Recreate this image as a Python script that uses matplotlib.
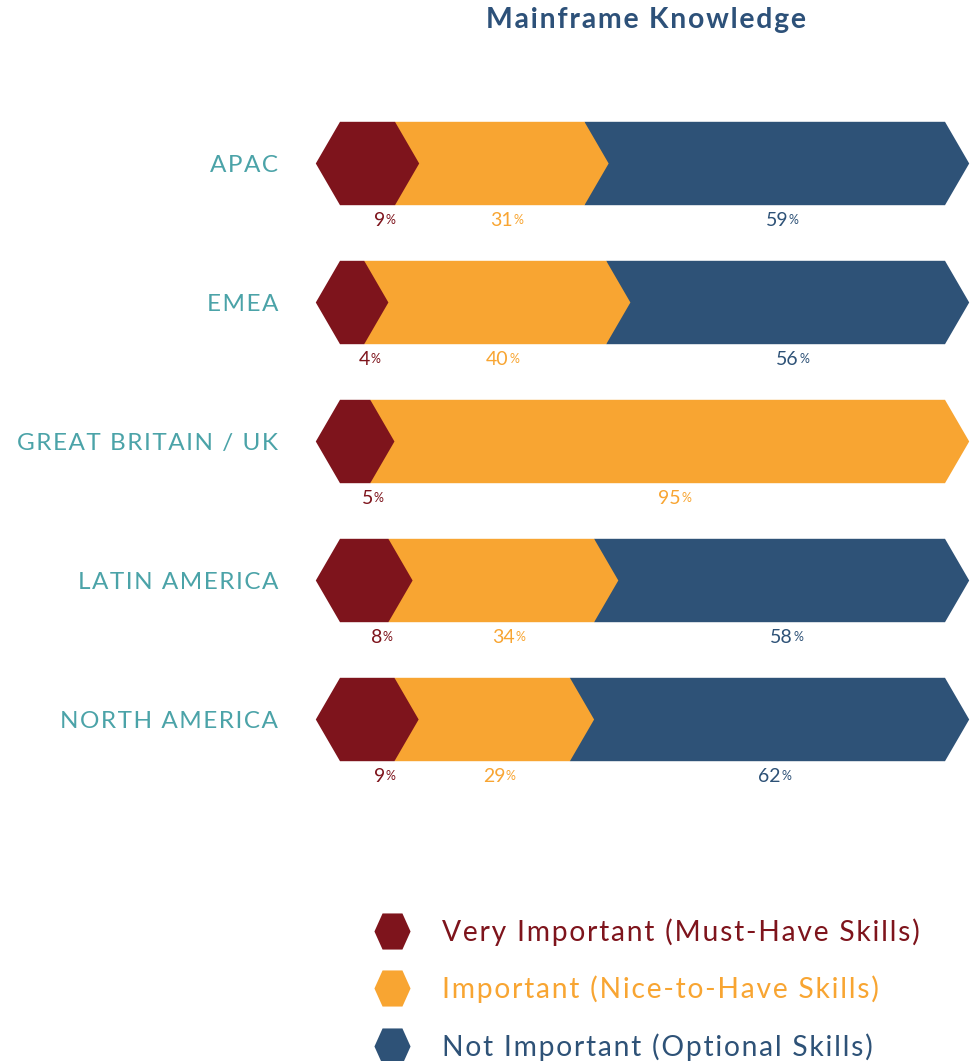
import matplotlib
matplotlib.use("Agg")
import matplotlib.pyplot as plt
from matplotlib.patches import Polygon
from matplotlib.lines import Line2D

# ── data ──
regions = ["APAC", "EMEA", "GREAT BRITAIN / UK", "LATIN AMERICA", "NORTH AMERICA"]
very_important = [9, 4, 5, 8, 9]
important = [31, 40, 95, 34, 29]
not_important = [59, 56, 0, 58, 62]
series_names = ["Very Important (Must-Have Skills)",
                "Important (Nice-to-Have Skills)",
                "Not Important (Optional Skills)"]

RED, ORANGE, NAVY = "#7e141c", "#f8a532", "#2e5277"
TEAL, TITLE = "#4ba3a8", "#2d5179"
colors = [RED, ORANGE, NAVY]

plt.rcParams["font.family"] = ["Lato", "DejaVu Sans"]


def spaced(s):
    # the source uses letter-spaced type; fake the tracking with hair spaces
    return "\u200a".join(s)


W, H = 972, 1061
fig = plt.figure(figsize=(W / 100, H / 100), dpi=100)
# 0 % at x=340 px, 100 % at x=945 px; rows centred every 139 px from y=164
ax = fig.add_axes([340 / W, 1 - 789 / H, 605 / W, 695 / H])
ax.set_xlim(0, 100)
ax.set_ylim(len(regions) - 0.5, -0.5)
for s in ax.spines.values():
    s.set_visible(False)
ax.set_xticks([])

TIP = 4.0      # arrow point depth, in % units
HALF = 0.30    # half bar height, in row units

rows = list(zip(very_important, important, not_important))
for i, vals in enumerate(rows):
    total = sum(vals)
    left = 0.0
    for k, v in enumerate(vals):
        if v <= 0:
            continue
        w = v / total * 100
        right = left + w
        pts = [(left, i - HALF), (right, i - HALF), (right + TIP, i),
               (right, i + HALF), (left, i + HALF)]
        if k == 0:
            pts.append((left - TIP, i))
        ax.add_patch(Polygon(pts, closed=True, facecolor=colors[k],
                             edgecolor="none", zorder=10 - k, clip_on=False))
        # value label under the segment, small raised "%"
        t = ax.text((left + right) / 2 + TIP / 2, i + HALF + 0.11, f"{v}",
                    ha="center", va="center", fontsize=14, color=colors[k])
        ax.annotate("%", xy=(1, 0.55), xycoords=t, xytext=(0.3, 0),
                    textcoords="offset points", ha="left", va="center",
                    fontsize=9, color=colors[k])
        left = right

ax.set_yticks(range(len(regions)), [spaced(r) for r in regions])
ax.tick_params(axis="y", length=0, pad=44.6, labelsize=17.5, labelcolor=TEAL)

fig.text(646.5 / W, 1 - 20 / H, spaced("Mainframe Knowledge"), ha="center",
         va="center", fontsize=20.4, fontweight="bold", color=TITLE)

hexagon = [(-1, 0), (-0.55, 1), (0.55, 1), (1, 0), (0.55, -1), (-0.55, -1)]
handles = [Line2D([], [], linestyle="none", marker=hexagon, markersize=26,
                  markerfacecolor=c, markeredgecolor="none") for c in colors]
leg = fig.legend(handles, [spaced(n) for n in series_names], loc="upper left",
                 bbox_to_anchor=(373 / W, 1 - 918 / H), frameon=False,
                 fontsize=20.3, handlelength=1.35, handletextpad=1.08,
                 labelspacing=1.06, borderpad=0, borderaxespad=0)
for txt, c in zip(leg.get_texts(), colors):
    txt.set_color(c)

fig.savefig("out.png", dpi=100)
